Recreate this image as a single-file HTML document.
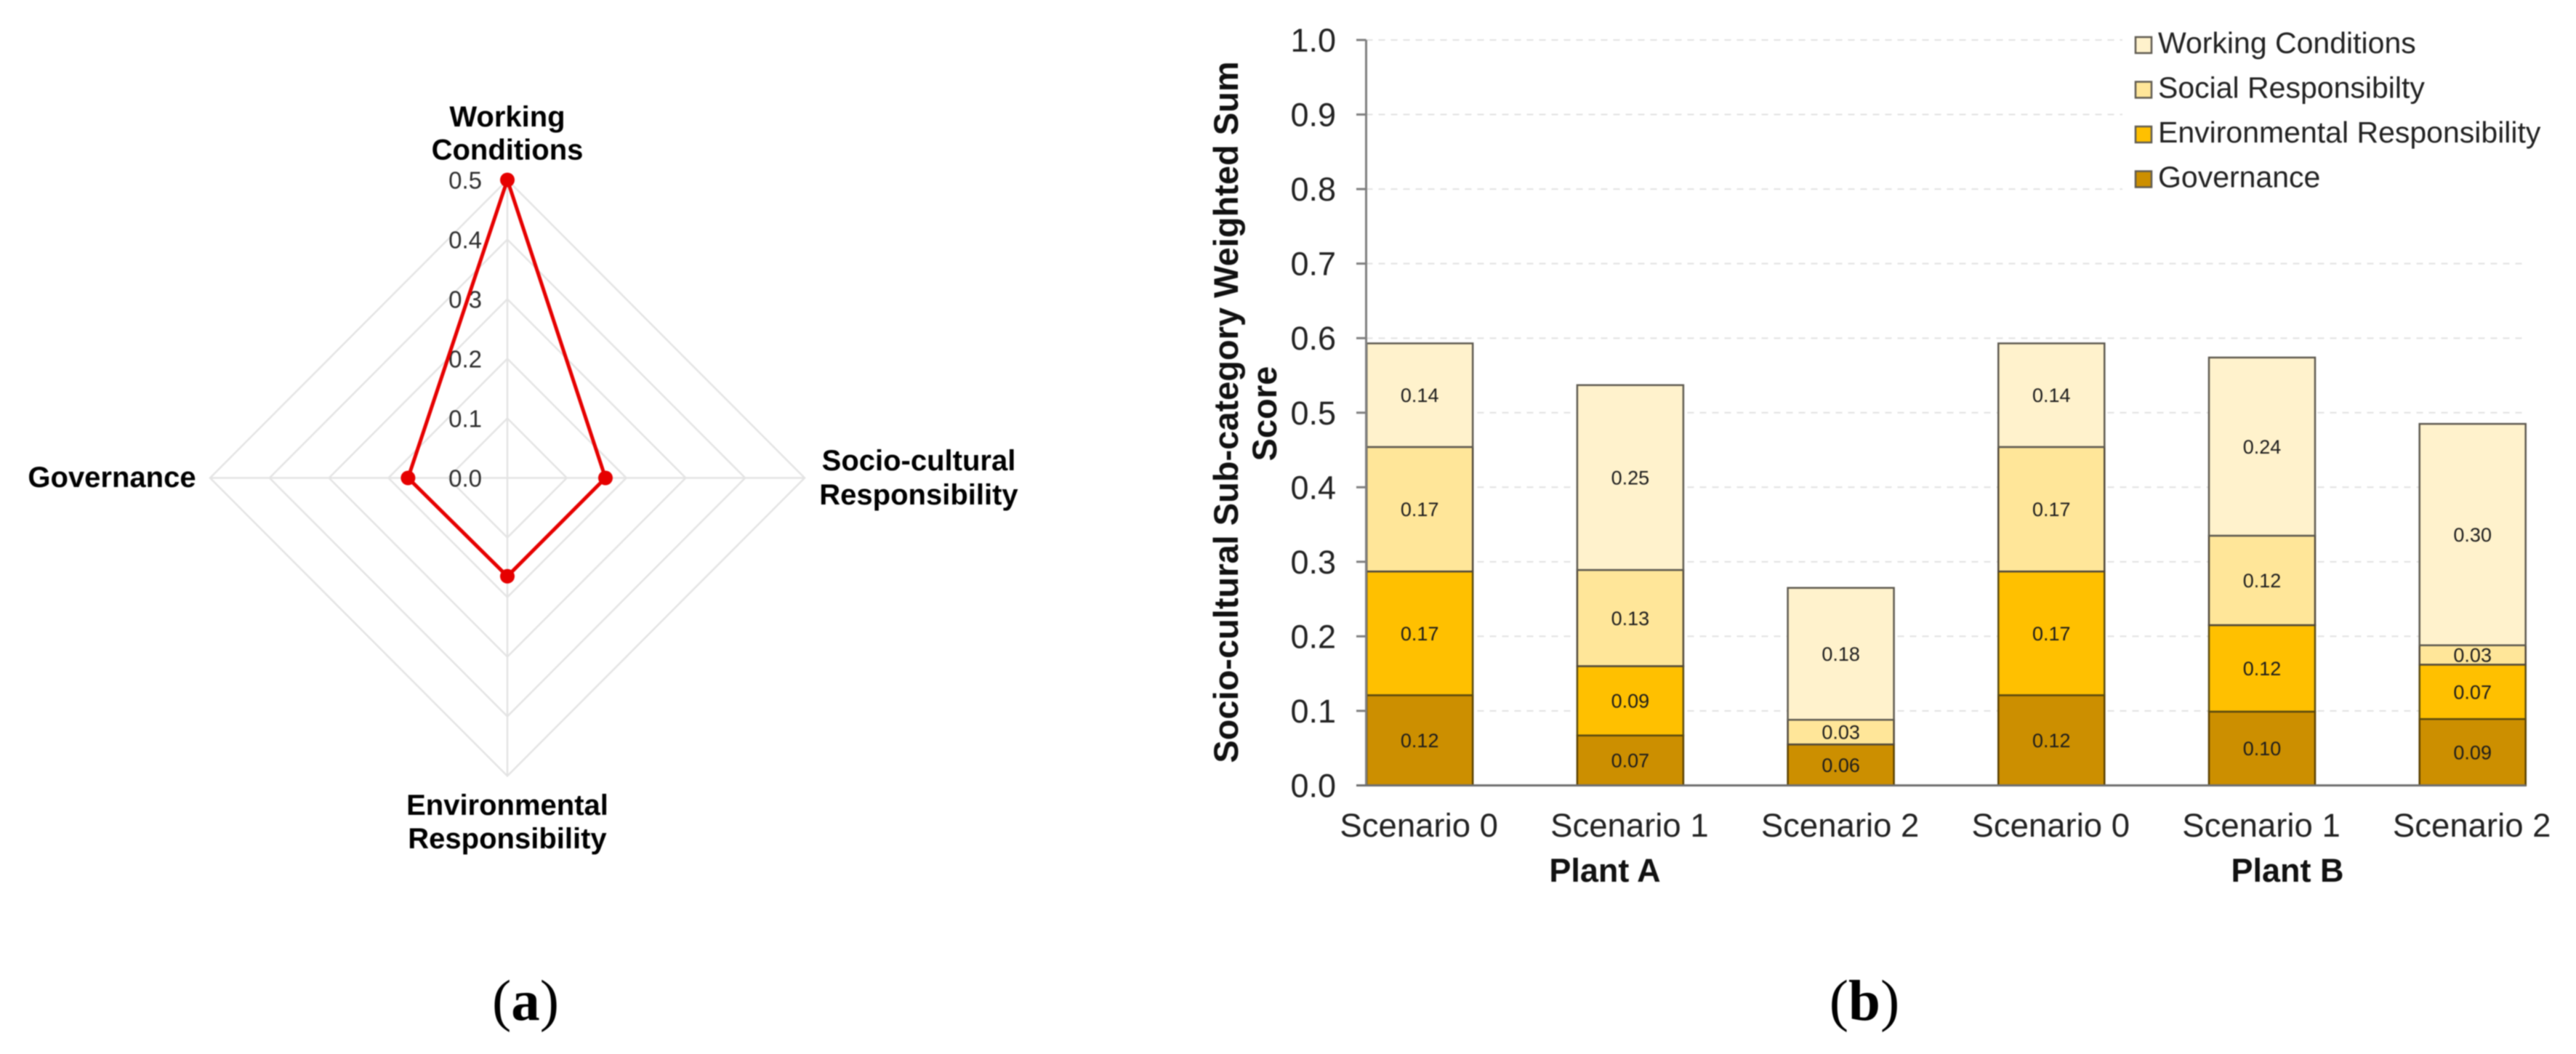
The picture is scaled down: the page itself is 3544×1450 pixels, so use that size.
<!DOCTYPE html>
<html lang="en">
<head>
<meta charset="utf-8">
<title>Socio-cultural radar and stacked bar charts</title>
<style>
html,body{margin:0;padding:0;background:#fff;}
body{width:3544px;height:1450px;overflow:hidden;}
svg{display:block;font-family:"Liberation Sans",Arial,sans-serif;filter:blur(0.7px);}
.rl{font-weight:bold;font-size:40px;fill:#000;text-anchor:middle;}
.cap{font-family:"Liberation Serif",serif;font-size:79px;fill:#000;text-anchor:middle;}
</style>
</head>
<body>
<svg id="fig" xmlns="http://www.w3.org/2000/svg" width="3544" height="1450" viewBox="0 0 3544 1450">
  <rect width="3544" height="1450" fill="#fff"/>
  <g id="radar">
    <text class="rl" x="698" y="174"><tspan x="698">Working</tspan><tspan x="698" y="219.5">Conditions</tspan></text>
    <text class="rl" x="1264" y="647"><tspan x="1264">Socio-cultural</tspan><tspan x="1264" y="694">Responsibility</tspan></text>
    <text class="rl" x="698" y="1121"><tspan x="698">Environmental</tspan><tspan x="698" y="1167">Responsibility</tspan></text>
    <text class="rl" x="154" y="670">Governance</text>
  </g>
  <g id="bars">
    <text transform="translate(1703,567) rotate(-90)" text-anchor="middle" font-weight="bold" font-size="47" fill="#111">Socio-cultural Sub-category Weighted Sum</text>
    <text transform="translate(1756,569) rotate(-90)" text-anchor="middle" font-weight="bold" font-size="47" fill="#111">Score</text>
    <text x="2208" y="1213" text-anchor="middle" font-weight="bold" font-size="45" fill="#111">Plant A</text>
    <text x="3147" y="1213" text-anchor="middle" font-weight="bold" font-size="45" fill="#111">Plant B</text>
  </g>
  <text class="cap" x="723" y="1403">(<tspan font-weight="bold">a</tspan>)</text>
  <text class="cap" x="2565" y="1403">(<tspan font-weight="bold">b</tspan>)</text>
</svg>
<script>
// Radar data
const radarCategories = ["Working Conditions", "Socio-cultural Responsibility", "Environmental Responsibility", "Governance"];
const radarValues = [0.5, 0.165, 0.165, 0.167];
const radarTicks = [0.0, 0.1, 0.2, 0.3, 0.4, 0.5];

// Stacked bar data
const barCategories = ["Scenario 0", "Scenario 1", "Scenario 2", "Scenario 0", "Scenario 1", "Scenario 2"];
const governance = [0.121, 0.067, 0.055, 0.121, 0.099, 0.089];
const environmental = [0.166, 0.093, 0, 0.166, 0.116, 0.073];
const social = [0.167, 0.129, 0.033, 0.167, 0.12, 0.026];
const working = [0.139, 0.248, 0.177, 0.139, 0.239, 0.297];
const yTicks = [0.0, 0.1, 0.2, 0.3, 0.4, 0.5, 0.6, 0.7, 0.8, 0.9, 1.0];
const legendLabels = ["Working Conditions", "Social Responsibilty", "Environmental Responsibility", "Governance"];

const NS = "http://www.w3.org/2000/svg";
function mk(parent, tag, attrs, txt) {
  const e = document.createElementNS(NS, tag);
  for (const k in attrs) e.setAttribute(k, attrs[k]);
  if (txt !== undefined) e.textContent = txt;
  parent.appendChild(e);
  return e;
}

/* ---------- radar ---------- */
const radarG = document.getElementById("radar");
const cx = 698, cy = 657.5;
const radarMax = 0.5;
function rx(v) { return v / radarMax * 409; }
function ry(v) { return v / radarMax * 410; }
function radarPoint(i, v) {
  const a = i * Math.PI / 2;
  return [cx + Math.sin(a) * rx(v), cy - Math.cos(a) * ry(v)];
}
radarTicks.slice(1).forEach(function (t) {
  const pts = radarCategories.map(function (c, i) { return radarPoint(i, t).join(","); }).join(" ");
  const ring = mk(radarG, "polygon", { points: pts, fill: "none", stroke: "#e4e4e4", "stroke-width": 2.5 });
  
  
});
radarCategories.forEach(function (c, i) {
  const p = radarPoint(i, radarMax);
  const spoke = mk(radarG, "line", { x1: cx, y1: cy, x2: p[0], y2: p[1], stroke: "#e4e4e4", "stroke-width": 2.5 });
  
  
});
radarTicks.forEach(function (t) {
  const lab = mk(radarG, "text", { x: 663, y: radarPoint(0, t)[1] + 12, "text-anchor": "end", "font-size": 33, fill: "#2e2e2e" }, t.toFixed(1));
  
  
});
const radarPts = radarValues.map(function (v, i) { return radarPoint(i, v); });
const radarLine = mk(radarG, "polygon", { points: radarPts.map(function (p) { return p.join(","); }).join(" "), fill: "none", stroke: "#e60000", "stroke-width": 5, "stroke-linejoin": "round" });


radarPts.forEach(function (p) {
  const dot = mk(radarG, "ellipse", { cx: p[0], cy: p[1], rx: 10, ry: 10, fill: "#e60000" });
  
  
});

/* ---------- stacked bars ---------- */
const barsG = document.getElementById("bars");
const y0 = 1080.5, yUnit = 1025.5;
const firstCenter = 1953.2, step = 289.7, barW = 146, axisX = 1879.5, axisEnd = 3475;
function yScale(v) { return y0 - v * yUnit; }
function xCenter(i) { return firstCenter + i * step; }

yTicks.forEach(function (t) {
  if (t > 0) {
    const grid = mk(barsG, "line", { x1: axisX, x2: axisEnd, y1: yScale(t), y2: yScale(t), stroke: "#e2e2e2", "stroke-width": 2, "stroke-dasharray": "9 8" });
    
    
  }
  const tick = mk(barsG, "line", { x1: 1866, x2: axisX, y1: yScale(t), y2: yScale(t), stroke: "#7f7f7f", "stroke-width": 3 });
  
  
  const lab = mk(barsG, "text", { x: 1838, y: yScale(t) + 16, "text-anchor": "end", "font-size": 45, fill: "#222" }, t.toFixed(1));
  
  
});

const stackSeries = [
  { key: "governance", vals: governance, fill: "#CC8F00", stroke: "#5a4000" },
  { key: "environmental", vals: environmental, fill: "#FFC000", stroke: "#5a4a10" },
  { key: "social", vals: social, fill: "#FFE699", stroke: "#50483a" },
  { key: "working", vals: working, fill: "#FFF2CC", stroke: "#5e5a50" }
];
barCategories.forEach(function (c, i) {
  let acc = 0;
  stackSeries.forEach(function (s) {
    const v = s.vals[i];
    if (v > 0) {
      const top = yScale(acc + v), bot = yScale(acc);
      const seg = mk(barsG, "rect", { x: xCenter(i) - barW / 2, y: top, width: barW, height: bot - top, fill: s.fill, stroke: s.stroke, "stroke-width": 2.5 });
      
      
      const val = mk(barsG, "text", { x: xCenter(i), y: (top + bot) / 2 + 9.5, "text-anchor": "middle", "font-size": 27, fill: "#1c1c1c" }, v.toFixed(2));
      
      
    }
    acc += v;
  });
  const cat = mk(barsG, "text", { x: xCenter(i) - 1, y: 1151, "text-anchor": "middle", "font-size": 45.5, fill: "#222" }, c);
  
  
});

const yAxisLine = mk(barsG, "line", { x1: axisX, x2: axisX, y1: yScale(1), y2: yScale(0) + 1.5, stroke: "#7f7f7f", "stroke-width": 3 });


const xAxisLine = mk(barsG, "line", { x1: 1866, x2: axisEnd, y1: yScale(0), y2: yScale(0), stroke: "#6f6f6f", "stroke-width": 3 });



/* legend */
const legendBg = mk(barsG, "rect", { x: 2920, y: 30, width: 624, height: 240, fill: "#fff" });


const legendFills = ["#FFF2CC", "#FFE699", "#FFC000", "#CC8F00"];
legendLabels.forEach(function (l, i) {
  const ly = 73 + i * 61.5;
  const sw = mk(barsG, "rect", { x: 2938, y: ly - 22, width: 22, height: 22, fill: legendFills[i], stroke: "#5e5a50", "stroke-width": 2.5 });
  
  
  const tx = mk(barsG, "text", { x: 2969, y: ly, "font-size": 41, fill: "#222" }, l);
  
  
});
</script>
</body>
</html>
